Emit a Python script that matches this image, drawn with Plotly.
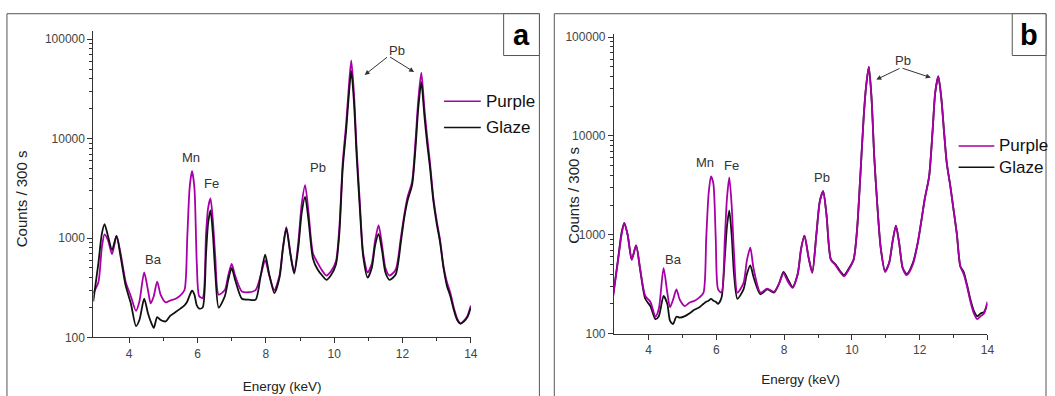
import plotly.graph_objects as go

# ---------------- data ----------------
energy_kev = [2.95, 3.1, 3.2, 3.28, 3.38, 3.5, 3.63, 3.75, 3.9, 4.05,
              4.2, 4.3, 4.44, 4.55, 4.63, 4.72, 4.82, 4.92, 5.07, 5.2,
              5.36, 5.5, 5.62, 5.7, 5.77, 5.84, 5.91, 5.98, 6.05, 6.15,
              6.25, 6.31, 6.38, 6.45, 6.52, 6.62, 6.8, 6.9, 7.0, 7.1,
              7.3, 7.5, 7.7, 7.85, 7.98, 8.1, 8.25, 8.4, 8.5, 8.6,
              8.72, 8.83, 8.95, 9.05, 9.15, 9.25, 9.38, 9.52, 9.65, 9.77,
              9.9, 10.05, 10.15, 10.25, 10.35, 10.42, 10.5, 10.58, 10.66, 10.75,
              10.85, 10.98, 11.1, 11.2, 11.3, 11.4, 11.5, 11.62, 11.8, 11.95,
              12.05, 12.15, 12.28, 12.38, 12.46, 12.55, 12.64, 12.72, 12.8, 12.9,
              13.0, 13.1, 13.2, 13.3, 13.4, 13.5, 13.6, 13.7, 13.8, 13.9, 14.0]

purple_a = [280, 360, 800, 1090, 950, 690, 1050, 700, 360, 260,
            185, 230, 450, 300, 220, 260, 365, 270, 225, 235,
            245, 265, 300, 1000, 3200, 4700, 3200, 550, 260, 250,
            1100, 2000, 2500, 1500, 650, 270, 300, 420, 550, 420,
            290, 285, 300, 420, 600, 420, 300, 420, 800, 1290,
            700, 460, 900, 2200, 3400, 1800, 700, 560, 470, 420,
            460, 580, 1250, 5700, 14000, 30000, 61000, 28000, 7600, 2300,
            700, 450, 550, 950, 1350, 850, 500, 420, 480, 1000,
            1700, 2600, 3700, 9500, 24000, 46000, 20000, 10500, 5900, 2600,
            1500, 950, 520, 360, 280, 200, 155, 138, 148, 165, 210]

glaze_a = [230, 560, 1100, 1380, 1050, 760, 1050, 650, 330, 220,
           130, 150, 245, 175, 145, 125, 160, 150, 145, 165,
           180, 195, 210, 230, 265, 295, 270, 210, 195, 200,
           700, 1400, 1900, 1100, 450, 200, 260, 380, 500, 380,
           245, 240, 240, 420, 680, 430, 280, 400, 780, 1250,
           680, 440, 800, 1800, 2600, 1500, 620, 480, 420, 380,
           420, 540, 1100, 5000, 12000, 25000, 48000, 23000, 6500, 2000,
           650, 400, 500, 850, 1100, 750, 450, 380, 430, 900,
           1600, 2400, 3400, 8000, 20000, 37000, 17000, 9000, 5300, 2400,
           1400, 900, 500, 330, 260, 190, 150, 138, 145, 160, 200]

purple_b = [240, 560, 1000, 1320, 1000, 560, 780, 450, 240, 210,
            148, 178, 460, 260, 185, 220, 280, 220, 190, 205,
            215, 232, 260, 930, 2600, 3900, 3300, 930, 280, 260,
            930, 2300, 3800, 2000, 650, 260, 325, 550, 740, 450,
            260, 285, 265, 320, 410, 340, 290, 400, 720, 980,
            590, 410, 1000, 2150, 2760, 1590, 560, 490, 420, 380,
            440, 560, 1100, 4000, 16000, 32000, 50000, 24000, 6100, 2000,
            740, 420, 520, 850, 1240, 800, 460, 390, 500, 850,
            1380, 2300, 3900, 11000, 27500, 40000, 24000, 11000, 5300, 3200,
            1800, 1000, 480, 400, 300, 210, 160, 140, 150, 160, 210]

glaze_b = [240, 580, 1050, 1320, 1000, 560, 780, 440, 225, 190,
           140, 150, 240, 200, 135, 125, 148, 145, 150, 160,
           175, 185, 200, 210, 215, 225, 215, 210, 200, 230,
           600, 1200, 1750, 1000, 400, 225, 280, 400, 490, 370,
           250, 280, 260, 320, 420, 360, 295, 400, 720, 980,
           590, 420, 1000, 2150, 2760, 1590, 560, 500, 430, 390,
           450, 560, 1100, 4000, 16000, 32000, 50000, 24000, 6100, 2000,
           740, 430, 520, 850, 1240, 800, 460, 400, 520, 850,
           1380, 2300, 3900, 11000, 27500, 40000, 24000, 11000, 5300, 3200,
           1800, 1000, 480, 420, 310, 220, 170, 150, 160, 165, 200]

series_names = ["Purple", "Glaze"]
x_tick_values = [4, 6, 8, 10, 12, 14]
y_tick_values = [100, 1000, 10000, 100000]
y_tick_labels = ["100", "1000", "10000", "100000"]

# peak labels: (text, energy keV, log10 counts)
labels_a = [("Ba", 4.71, 2.78), ("Mn", 5.80, 3.81), ("Fe", 6.41, 3.55),
            ("Pb", 9.52, 3.71), ("Pb", 11.85, 4.89)]
labels_b = [("Ba", 4.73, 2.75), ("Mn", 5.67, 3.73), ("Fe", 6.46, 3.70),
            ("Pb", 9.13, 3.58), ("Pb", 11.51, 4.76)]
# Pb arrows: tail (keV, log), heads
arrows_a = [((11.59, 4.83), (10.89, 4.64)), ((11.59, 4.83), (12.34, 4.67))]
arrows_b = [((11.45, 4.69), (10.72, 4.57)), ((11.45, 4.69), (12.33, 4.59))]

# ---------------- styling ----------------
W, H = 1055, 396
PURPLE = "#A800A8"
BLACK = "#111111"
FONT = "Liberation Sans, Arial, sans-serif"


def px(x):
    return x / W


def py(y):
    return 1 - y / H


fig = go.Figure()

LW = 1.8
# panel a: purple under black
fig.add_trace(go.Scatter(x=energy_kev, y=purple_a, mode="lines", name=series_names[0],
                         line=dict(color=PURPLE, width=LW, shape="spline", smoothing=0.7),
                         xaxis="x", yaxis="y", showlegend=False))
fig.add_trace(go.Scatter(x=energy_kev, y=glaze_a, mode="lines", name=series_names[1],
                         line=dict(color=BLACK, width=LW, shape="spline", smoothing=0.7),
                         xaxis="x", yaxis="y", showlegend=False))
# panel b: black under purple
fig.add_trace(go.Scatter(x=energy_kev, y=glaze_b, mode="lines", name=series_names[1],
                         line=dict(color=BLACK, width=LW, shape="spline", smoothing=0.7),
                         xaxis="x2", yaxis="y2", showlegend=False))
fig.add_trace(go.Scatter(x=energy_kev, y=purple_b, mode="lines", name=series_names[0],
                         line=dict(color=PURPLE, width=LW, shape="spline", smoothing=0.7),
                         xaxis="x2", yaxis="y2", showlegend=False))

minor_y = [m * 10 ** d for d in (2, 3, 4) for m in range(2, 10)]
minor_x = [5, 7, 9, 11, 13]

axis_common = dict(showline=True, linecolor="#333", linewidth=1, ticks="outside",
                   ticklen=5, tickcolor="#333", tickwidth=1, showgrid=False,
                   zeroline=False, tickfont=dict(size=12, color="#444", family=FONT))


def xaxis(domain, rng, standoff):
    return dict(axis_common, domain=domain, range=rng, tickmode="array",
                tickvals=x_tick_values,
                minor=dict(tickmode="array", tickvals=minor_x, ticks="outside",
                           ticklen=3, tickcolor="#333"),
                title=dict(text="Energy (keV)", font=dict(size=13.5, color="#222", family=FONT),
                           standoff=standoff))


def yaxis(domain, rng, anchor):
    return dict(axis_common, type="log", domain=domain, range=rng, anchor=anchor,
                tickmode="array", tickvals=y_tick_values, ticktext=y_tick_labels,
                minor=dict(tickmode="array", tickvals=minor_y, ticks="outside",
                           ticklen=3, tickcolor="#333"))


shapes = []
annotations = []

# outer frames and panel label boxes
for (x0, x1, lx0) in [(7, 543, 507), (558, 1053, 1019)]:
    shapes.append(dict(type="rect", xref="paper", yref="paper", x0=px(x0), x1=px(x1),
                       y0=-0.05, y1=py(10), line=dict(color="#555", width=1)))
    shapes.append(dict(type="rect", xref="paper", yref="paper", x0=px(lx0), x1=px(x1),
                       y0=py(53), y1=py(10), line=dict(color="#555", width=1),
                       fillcolor="white"))
for txt, cx in [("a", 525), ("b", 1036)]:
    annotations.append(dict(text="<b>%s</b>" % txt, xref="paper", yref="paper",
                            x=px(cx), y=py(32), xanchor="center", yanchor="middle",
                            showarrow=False,
                            font=dict(size=29, color="#000", family=FONT)))

# y axis titles
for cx, cy in [(22, 200), (577, 197)]:
    annotations.append(dict(text="Counts / 300 s", xref="paper", yref="paper",
                            x=px(cx), y=py(cy), xanchor="center", yanchor="middle",
                            textangle=-90, showarrow=False,
                            font=dict(size=15, color="#222", family=FONT)))

# legends (manual, one per panel)
legend_layout = [((447, 484, 487), (100, 127)), ((965, 1001, 1004), (146, 168))]
for (lx0, lx1, tx), (yp, yg) in legend_layout:
    for name, color, yy in [(series_names[0], PURPLE, yp), (series_names[1], BLACK, yg)]:
        shapes.append(dict(type="line", xref="paper", yref="paper", x0=px(lx0), x1=px(lx1),
                           y0=py(yy), y1=py(yy), line=dict(color=color, width=1.5)))
        annotations.append(dict(text=name, xref="paper", yref="paper", x=px(tx), y=py(yy),
                                xanchor="left", yanchor="middle", showarrow=False,
                                font=dict(size=17, color="#111", family=FONT)))

# peak labels
for labels, xr, yr in [(labels_a, "x", "y"), (labels_b, "x2", "y2")]:
    for txt, xe, yl in labels:
        annotations.append(dict(text=txt, x=xe, y=yl, xref=xr, yref=yr, showarrow=False,
                                font=dict(size=13, color="#333", family=FONT)))

for arrows, xr, yr in [(arrows_a, "x", "y"), (arrows_b, "x2", "y2")]:
    for (tail, head) in arrows:
        annotations.append(dict(text="", x=head[0], y=head[1], ax=tail[0], ay=tail[1],
                                xref=xr, yref=yr, axref=xr, ayref=yr, showarrow=True,
                                arrowhead=2, arrowsize=1, arrowwidth=1, arrowcolor="#333",
                                standoff=0, startstandoff=0))

fig.update_layout(
    width=W, height=H,
    margin=dict(l=0, r=0, t=0, b=0),
    paper_bgcolor="white", plot_bgcolor="white",
    font=dict(family=FONT, color="#333"),
    showlegend=False,
    xaxis=dict(xaxis([px(94), px(474)], [2.953, 14.0], 21), anchor="y"),
    yaxis=yaxis([py(343), py(28)], [2.0, 5.08], "x"),
    xaxis2=dict(xaxis([px(618), px(994)], [2.974, 14.0], 18), anchor="y2"),
    yaxis2=yaxis([py(339), py(31)], [2.0, 5.03], "x2"),
    shapes=shapes,
    annotations=annotations,
)

fig.write_html("out.html")
